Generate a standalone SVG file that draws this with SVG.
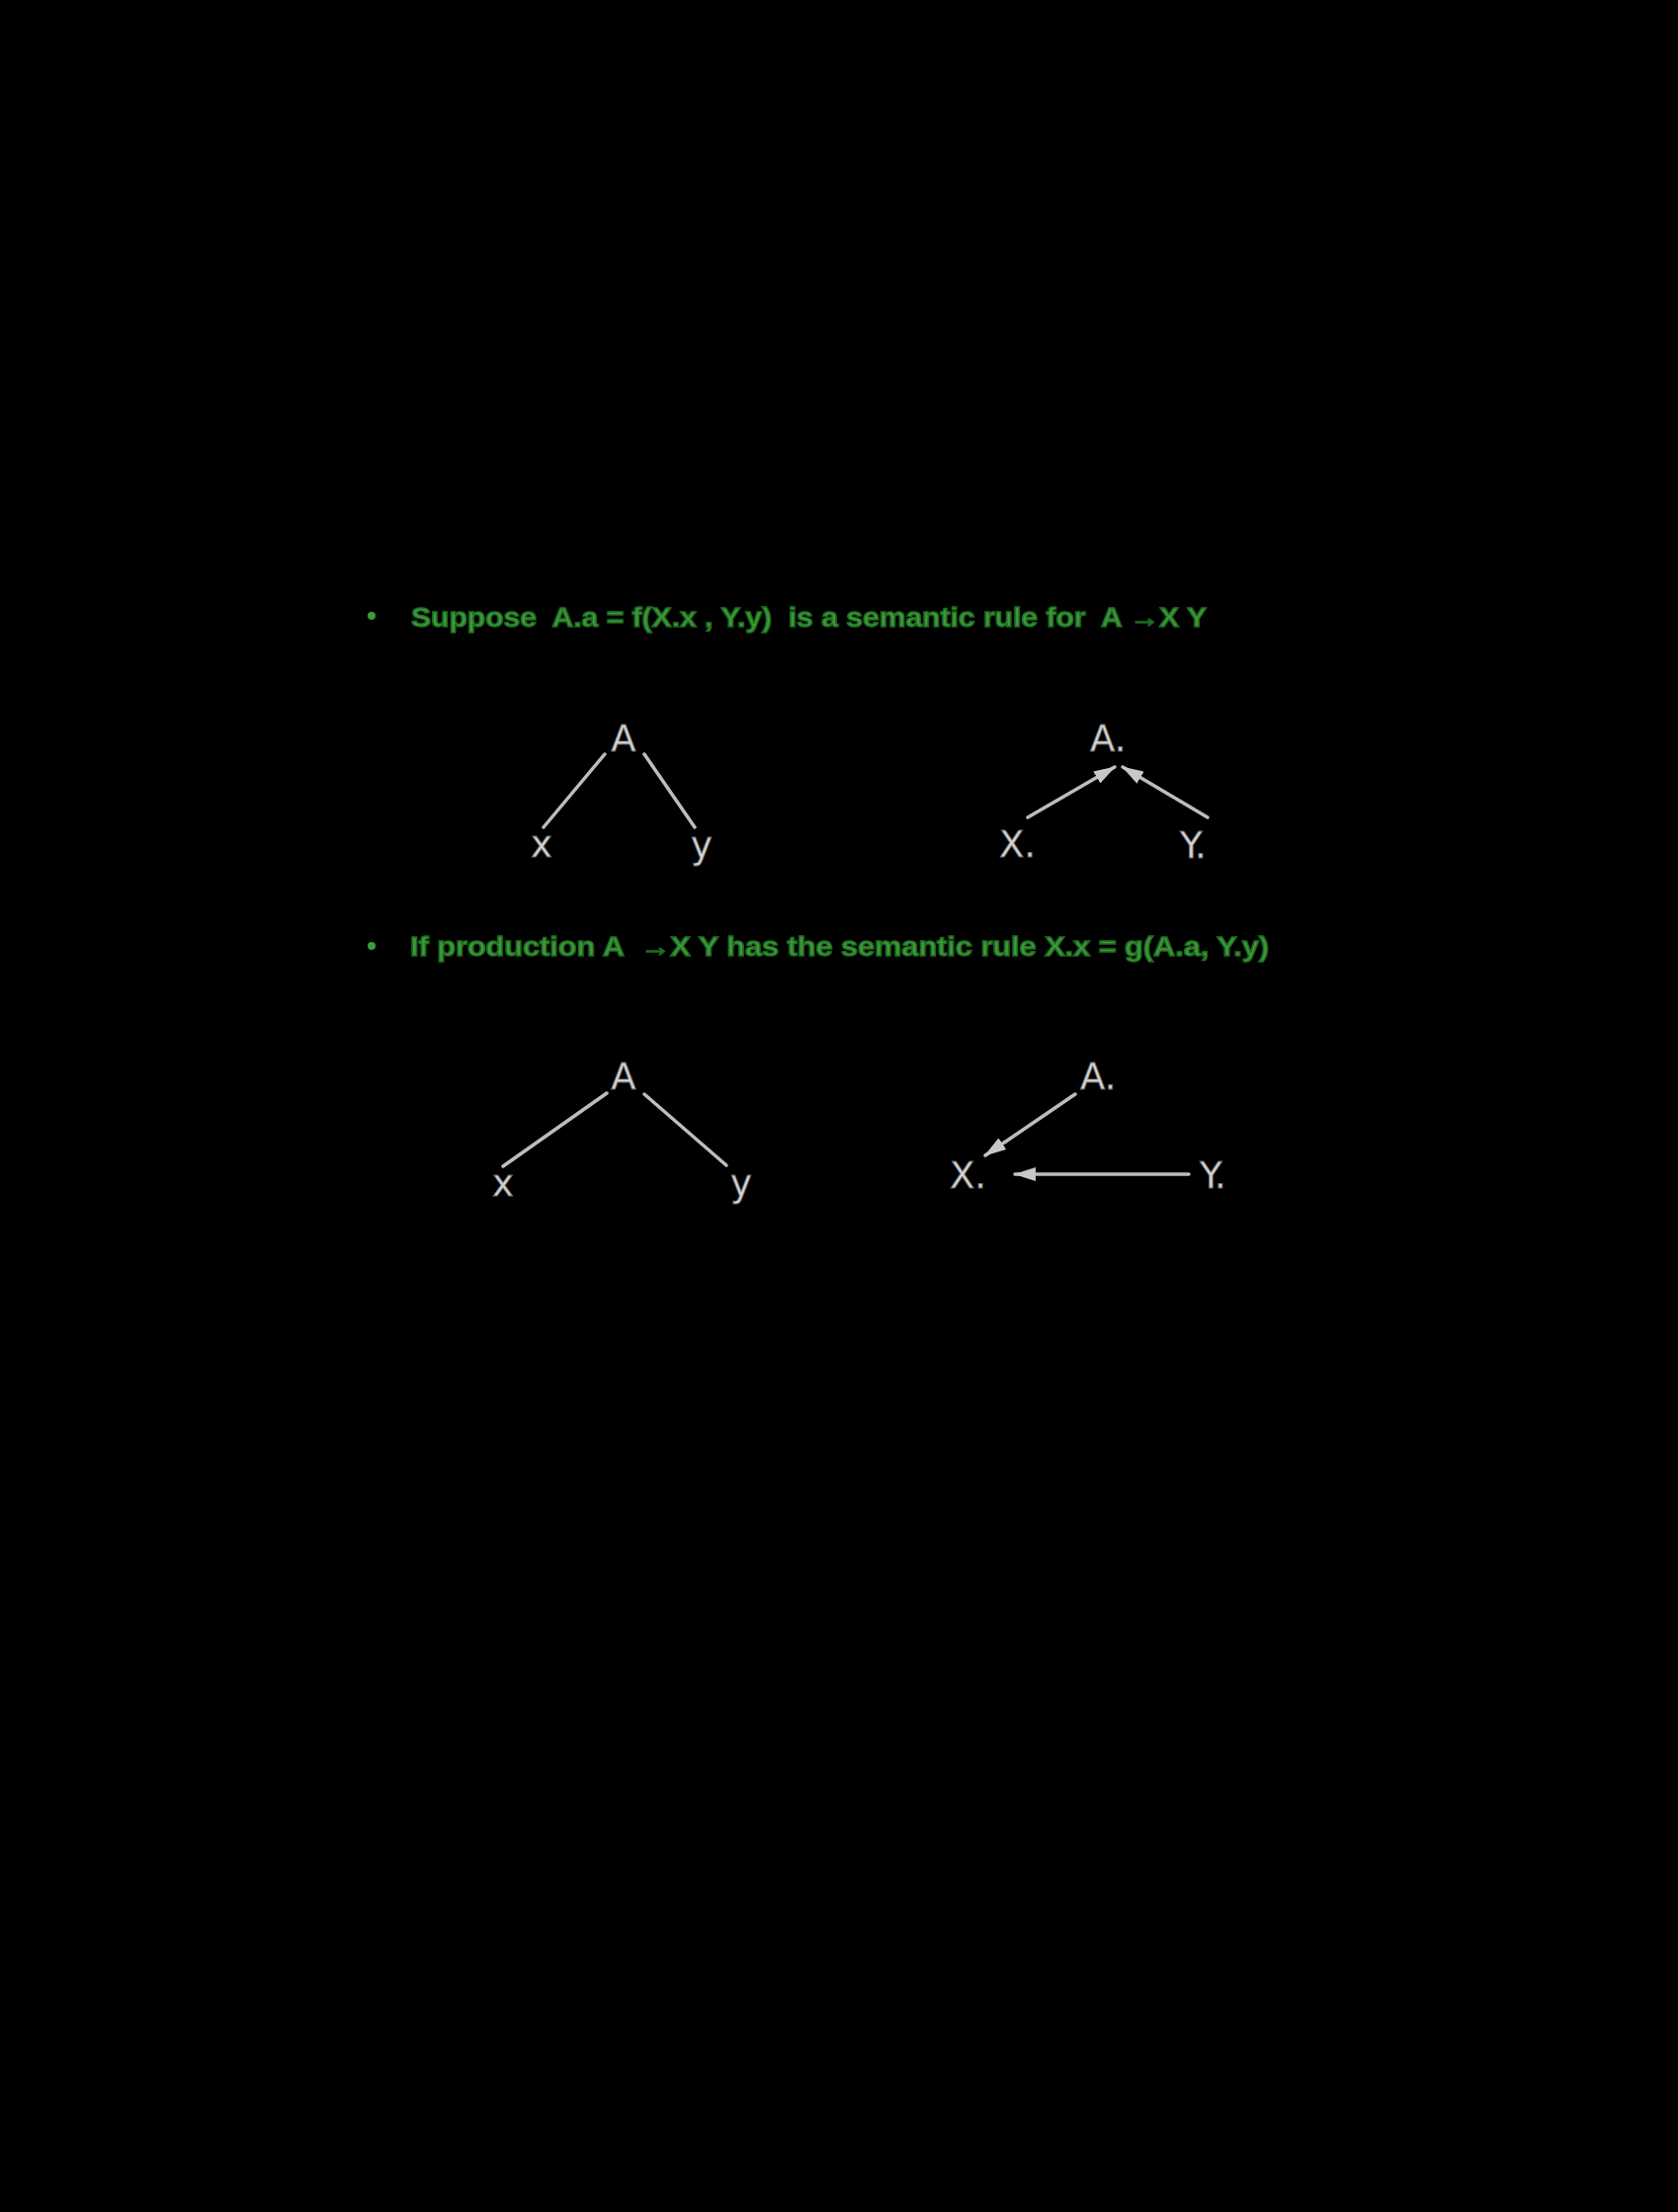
<svg xmlns="http://www.w3.org/2000/svg" width="1698" height="2238" viewBox="0 0 1698 2238">
<style>
.bg{fill:#000}
.t{font-family:"Liberation Sans Narrow","Liberation Sans",Arial,sans-serif;font-weight:bold;font-size:27px;fill:#3d9b3d;stroke:#1f6a1f;stroke-width:1.4}
.n{font-family:"DejaVu Sans",sans-serif;font-size:37px;fill:#d4d4d4;stroke:#666;stroke-width:0.8}
.c{stroke:#bdbdbd;stroke-width:3.5;fill:none;stroke-linecap:round}
.b{fill:#3d9b3d}
</style>
<defs>
<marker id="ahl" markerWidth="22" markerHeight="14" refX="21" refY="7" orient="auto" markerUnits="userSpaceOnUse" viewBox="0 0 22 14">
<path d="M0,0 L22,7 L0,14 Z" fill="#c8c8c8"/>
</marker>
</defs>
<rect class="bg" x="0" y="0" width="1698" height="2238"/>
<g id="bullet1">
<circle class="b" cx="376" cy="623" r="4"/>
<text class="t" x="416" y="634" textLength="805" lengthAdjust="spacingAndGlyphs" xml:space="preserve">Suppose  A.a = f(X.x , Y.y)  is a semantic rule for  A →X Y</text>
</g>
<g id="bullet2">
<circle class="b" cx="376" cy="957" r="4"/>
<text class="t" x="415" y="967" textLength="869" lengthAdjust="spacingAndGlyphs" xml:space="preserve">If production A  →X Y has the semantic rule X.x = g(A.a, Y.y)</text>
</g>
<g id="tree1">
<g id="t1-A"><text class="n" x="631" y="760" text-anchor="middle">A</text></g>
<g id="t1-X"><text class="n" x="548" y="867" text-anchor="middle">x</text></g>
<g id="t1-Y"><text class="n" x="710" y="868" text-anchor="middle">y</text></g>
</g>
<g id="tree2">
<g id="t2-A"><text class="n" x="1103" y="760">A.</text></g>
<g id="t2-X"><text class="n" x="1011" y="867">X.</text></g>
<g id="t2-Y"><text class="n" x="1194" y="868">Y.</text></g>
</g>
<g id="tree3">
<g id="t3-A"><text class="n" x="631" y="1102" text-anchor="middle">A</text></g>
<g id="t3-X"><text class="n" x="509" y="1210" text-anchor="middle">x</text></g>
<g id="t3-Y"><text class="n" x="750" y="1210" text-anchor="middle">y</text></g>
</g>
<g id="tree4">
<g id="t4-A"><text class="n" x="1093" y="1102">A.</text></g>
<g id="t4-X"><text class="n" x="961" y="1202">X.</text></g>
<g id="t4-Y"><text class="n" x="1214" y="1202">Y.</text></g>
</g>
<g id="connectors">
<line class="c" x1="612" y1="763" x2="550" y2="837"/>
<line class="c" x1="652" y1="763" x2="703" y2="837"/>
<line class="c" x1="1040" y1="827" x2="1128" y2="776" marker-end="url(#ahl)"/>
<line class="c" x1="1222" y1="827" x2="1136" y2="776" marker-end="url(#ahl)"/>
<line class="c" x1="614" y1="1106" x2="509" y2="1180"/>
<line class="c" x1="652" y1="1107" x2="735" y2="1179"/>
<line class="c" x1="1088" y1="1107" x2="997" y2="1169" marker-end="url(#ahl)"/>
<line class="c" x1="1203" y1="1188" x2="1027" y2="1188" marker-end="url(#ahl)"/>
</g>
</svg>
